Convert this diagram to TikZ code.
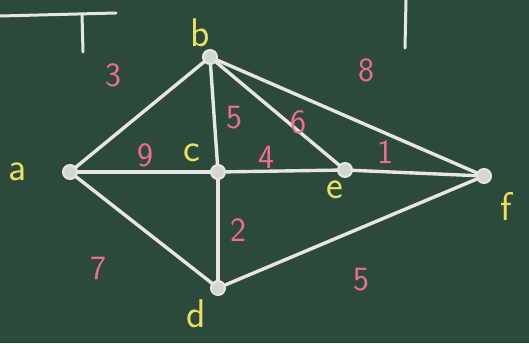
\documentclass[tikz,border=0pt]{standalone}
\usetikzlibrary{arrows.meta}
\definecolor{board}{HTML}{2C4A3B}
\definecolor{chalk}{HTML}{E6E6E2}
\definecolor{chalkyellow}{HTML}{E9E25C}
\definecolor{chalkpink}{HTML}{EF6C93}

\begin{document}
\begin{tikzpicture}[x=1pt,y=-1pt,
  vertex/.style={circle,draw=chalk,fill=chalk!90!board,line width=2pt,minimum size=14pt,inner sep=0pt},
  edge/.style={draw=chalk,line width=3.4pt,line cap=round},
  vname/.style={text=chalkyellow,font=\sffamily\fontsize{40}{42}\selectfont},
  wlabel/.style={text=chalkpink,font=\sffamily\fontsize{34}{36}\selectfont}]
\useasboundingbox (0,0) rectangle (529,343);
\fill[board] (0,0) rectangle (529,343);
% chalk strokes of the heading
\draw[chalk,line width=3pt,line cap=round] (0,16) -- (116,13);
\draw[chalk,line width=3pt,line cap=round] (82,14) -- (83,52);
\draw[chalk,line width=3pt,line cap=round] (406,0) -- (405,48);
% vertices
\node[vertex] (a) at (70,172) {};
\node[vertex] (b) at (210,57) {};
\node[vertex] (c) at (218,172) {};
\node[vertex] (e) at (345,170) {};
\node[vertex] (f) at (484,176) {};
\node[vertex] (d) at (218,288) {};
% edges
\draw[edge] (a) -- (b);
\draw[edge] (a) -- (c);
\draw[edge] (a) -- (d);
\draw[edge] (b) -- (c);
\draw[edge] (b) -- (e);
\draw[edge] (b) -- (f);
\draw[edge] (c) -- (e);
\draw[edge] (e) -- (f);
\draw[edge] (c) -- (d);
\draw[edge] (d) -- (f);
% vertex names
\node[vname] (la) at (18,172) {a};
\node[vname] (lb) at (200,33) {b};
\node[vname] (lc) at (192,153) {c};
\node[vname] (le) at (335,190) {e};
\node[vname] (lf) at (506,206) {f};
\node[vname] (ld) at (196,314) {d};
% weights
\node[wlabel] (wab) at (113,75) {3};
\node[wlabel] (wbf) at (366,70) {8};
\node[wlabel] (wac) at (145,155) {9};
\node[wlabel] (wbc) at (234,118) {5};
\node[wlabel] (wbe) at (298,122) {6};
\node[wlabel] (wce) at (266,157) {4};
\node[wlabel] (wef) at (385,152) {1};
\node[wlabel] (wcd) at (238,230) {2};
\node[wlabel] (wad) at (98,268) {7};
\node[wlabel] (wdf) at (361,280) {5};
\end{tikzpicture}
\end{document}
